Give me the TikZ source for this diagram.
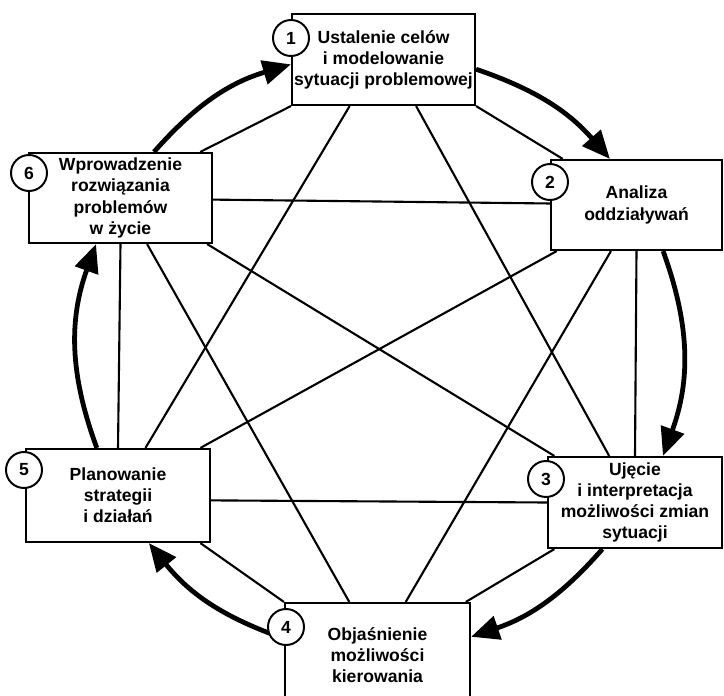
\documentclass[tikz,border=0pt]{standalone}
\usepackage{fontspec}
\setmainfont{Liberation Sans}
\usetikzlibrary{arrows.meta}

\begin{document}
\begin{tikzpicture}[x=0.025cm, y=-0.025cm,
	box/.style={draw, line width=1.5pt, fill=white, align=center, inner sep=0pt,
		font=\bfseries\fontsize{12.5}{15}\selectfont},
	nr/.style={draw, circle, line width=1.4pt, fill=white, minimum size=0.9cm, inner sep=0pt,
		font=\bfseries\fontsize{12.5}{14}\selectfont},
	link/.style={line width=1.5pt},
	flow/.style={line width=3.4pt, -{Triangle[length=20pt,width=17pt]}}]
	\useasboundingbox (0,0) rectangle (724,696);  % Ramka obrazka
	
	% Etapy
	\node[box, minimum width=4.575cm, minimum height=2.275cm] (b1) at (383.5,59.5)
		{Ustalenie celów\\i modelowanie\\sytuacji problemowej};
	\node[box, minimum width=4.275cm, minimum height=2.25cm] (b2) at (636.5,205)
		{Analiza\\oddziaływań};
	\node[box, minimum width=4.35cm, minimum height=2.275cm] (b3) at (635,502.5)
		{Ujęcie\\i interpretacja\\możliwości zmian\\sytuacji};
	\node[box, minimum width=4.625cm, minimum height=2.6cm] (b4) at (377.5,655)
		{Objaśnienie\\możliwości\\kierowania};
	\node[box, minimum width=4.6cm, minimum height=2.325cm] (b5) at (118,495.5)
		{Planowanie\\strategii\\i działań};
	\node[box, minimum width=4.575cm, minimum height=2.25cm] (b6) at (120.5,198)
		{Wprowadzenie\\rozwiązania\\problemów\\w życie};
	
	% Powiazania miedzy etapami
	\draw[link] (b1.south west) -- (b6.30);
	\draw[link] (b1.234) -- (b5.60);
	\draw[link] (b1.305) -- (b3.119);
	\draw[link] (b1.south east) -- (b2.148);
	\draw[link] (b6.359) -- (b2.179);
	\draw[link] (b6.300) -- (b4.118);
	\draw[link] (b6.332) -- (b3.150);
	\draw[link] (b6.south) -- (b5.north);
	\draw[link] (b2.210) -- (b5.30);
	\draw[link] (b2.241) -- (b4.62);
	\draw[link] (b2.south) -- (b3.north);
	\draw[link] (b5.357) -- (b3.west);
	\draw[link] (b5.330) -- (b4.north west);
	\draw[link] (b3.210) -- (b4.31);
	
	% Cykl (strzalki)
	\draw[flow] (b6.54) to[bend left=16] (b1.183);
	\draw[flow] (b1.354) to[bend left=15] (b2.120);
	\draw[flow] (b2.300) to[bend left=20] (b3.59);
	\draw[flow] (b3.235) to[bend left=15] (b4.11);
	\draw[flow] (b4.170) to[bend left=16] (b5.303);
	\draw[flow] (b5.114) to[bend left=20] (b6.242);
	
	% Numery etapow
	\node[nr] (n1) at (291,38) {1};
	\node[nr] (n2) at (550,182) {2};
	\node[nr] (n3) at (546,479) {3};
	\node[nr] (n4) at (286,627) {4};
	\node[nr] (n5) at (24,470) {5};
	\node[nr] (n6) at (29,173) {6};
\end{tikzpicture}
\end{document}
